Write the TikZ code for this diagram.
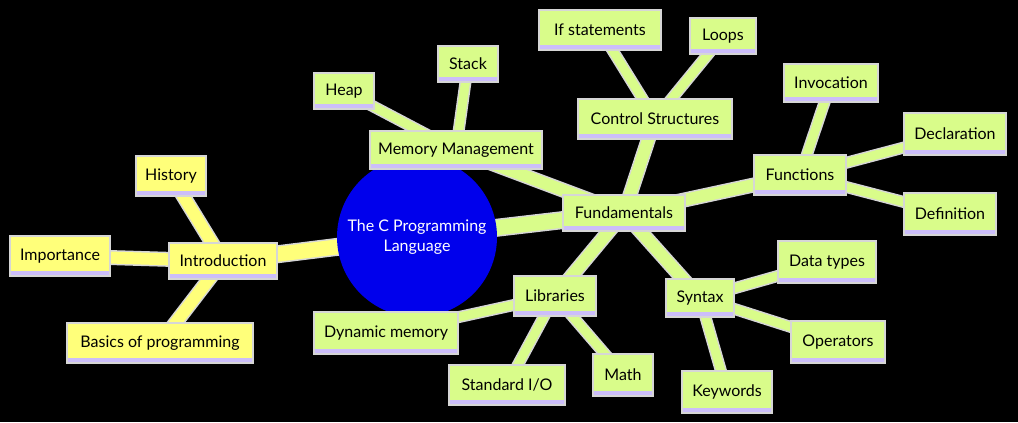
\documentclass[tikz,border=0pt]{standalone}
\usepackage{fontspec}
\setmainfont{Lato}
\pgfdeclarelayer{back}
\pgfdeclarelayer{edges}
\pgfsetlayers{back,edges,main}
\definecolor{secy}{RGB}{255,255,122}
\definecolor{secg}{RGB}{217,252,138}
\definecolor{rootblue}{RGB}{0,0,236}
\definecolor{halo}{RGB}{214,214,214}
\definecolor{lav}{RGB}{204,190,250}
\def\px{0.75pt}
\tikzset{
  lbl/.style={font=\fontsize{12}{14.4}\selectfont, text=black},
  box/.style={lbl, rectangle, fill=#1, draw=halo, line width=2pt, inner sep=0pt,
    minimum height=40*\px,
    path picture={\fill[lav] (path picture bounding box.south west) rectangle ([yshift=4pt]path picture bounding box.south east);}},
  ybox/.style={box=secy},
  gbox/.style={box=secg},
  rootnode/.style={circle, fill=rootblue, inner sep=0pt, minimum size=160*\px,
    font=\fontsize{12}{14.4}\selectfont, text=white, align=center},
  edgebase/.style={line cap=butt},
  ezero/.style={edgebase, draw=#1, line width=11.25pt, preaction={draw=halo, line width=13.5pt}},
  eone/.style={edgebase, draw=#1, line width=9pt, preaction={draw=halo, line width=11.25pt}},
  etwo/.style={edgebase, draw=#1, line width=6.75pt, preaction={draw=halo, line width=9pt}},
}
\begin{document}
\begin{tikzpicture}[x=0.75pt,y=-0.75pt]
\begin{pgfonlayer}{back}
\fill[black] (0,0) rectangle (1018,422);
\end{pgfonlayer}
\useasboundingbox (0,0) rectangle (1018,422);

% root
\node[rootnode] (root) at (417,237) {The C Programming\\Language};

% Introduction section
\node[ybox, minimum width=108*\px, minimum height=36*\px] (intro) at (223,261) {Introduction};
\node[ybox, minimum width=70*\px] (history) at (171,176) {History};
\node[ybox, minimum width=100*\px] (importance) at (60,256) {Importance};
\node[ybox, minimum width=186*\px] (basics) at (160,343) {Basics of programming};

% Fundamentals section
\node[gbox, minimum width=122*\px, minimum height=36*\px] (fund) at (624,213) {Fundamentals};
\node[gbox, minimum width=172*\px, minimum height=38*\px] (memory) at (456,150) {Memory Management};
\node[gbox, minimum width=60*\px, minimum height=36*\px] (heap) at (344,91) {Heap};
\node[gbox, minimum width=60*\px, minimum height=36*\px] (stack) at (468,64) {Stack};
\node[gbox, minimum width=154*\px] (control) at (655,119) {Control Structures};
\node[gbox, minimum width=122*\px] (ifst) at (600,30) {If statements};
\node[gbox, minimum width=66*\px, minimum height=36*\px] (loops) at (723,36) {Loops};
\node[gbox, minimum width=92*\px] (functions) at (800,175) {Functions};
\node[gbox, minimum width=94*\px, minimum height=38*\px] (invocation) at (831,83) {Invocation};
\node[gbox, minimum width=102*\px, minimum height=42*\px] (declaration) at (955,134) {Declaration};
\node[gbox, minimum width=92*\px, minimum height=42*\px] (definition) at (950,214) {Definition};
\node[gbox, minimum width=82*\px] (libraries) at (555,296) {Libraries};
\node[gbox, minimum width=144*\px, minimum height=42*\px] (dynmem) at (386,333) {Dynamic memory};
\node[gbox, minimum width=116*\px] (stdio) at (507,385) {Standard I/O};
\node[gbox, minimum width=60*\px, minimum height=42*\px] (math) at (623,375) {Math};
\node[gbox, minimum width=68*\px, minimum height=38*\px] (syntax) at (700,298) {Syntax};
\node[gbox, minimum width=98*\px, minimum height=42*\px] (datatypes) at (827,262) {Data types};
\node[gbox, minimum width=94*\px, minimum height=42*\px] (operators) at (838,342) {Operators};
\node[gbox, minimum width=90*\px, minimum height=42*\px] (keywords) at (727,392) {Keywords};

\begin{pgfonlayer}{edges}
\draw[ezero=secy] (root.center) -- (intro.center);
\draw[ezero=secg] (root.center) -- (fund.center);
\draw[eone=secy] (intro.center) -- (history.center);
\draw[eone=secy] (intro.center) -- (importance.center);
\draw[eone=secy] (intro.center) -- (basics.center);
\draw[eone=secg] (fund.center) -- (memory.center);
\draw[eone=secg] (fund.center) -- (control.center);
\draw[eone=secg] (fund.center) -- (functions.center);
\draw[eone=secg] (fund.center) -- (libraries.center);
\draw[eone=secg] (fund.center) -- (syntax.center);
\draw[etwo=secg] (memory.center) -- (heap.center);
\draw[etwo=secg] (memory.center) -- (stack.center);
\draw[etwo=secg] (control.center) -- (ifst.center);
\draw[etwo=secg] (control.center) -- (loops.center);
\draw[etwo=secg] (functions.center) -- (invocation.center);
\draw[etwo=secg] (functions.center) -- (declaration.center);
\draw[etwo=secg] (functions.center) -- (definition.center);
\draw[etwo=secg] (libraries.center) -- (dynmem.center);
\draw[etwo=secg] (libraries.center) -- (stdio.center);
\draw[etwo=secg] (libraries.center) -- (math.center);
\draw[etwo=secg] (syntax.center) -- (datatypes.center);
\draw[etwo=secg] (syntax.center) -- (operators.center);
\draw[etwo=secg] (syntax.center) -- (keywords.center);
\end{pgfonlayer}
\end{tikzpicture}
\end{document}
